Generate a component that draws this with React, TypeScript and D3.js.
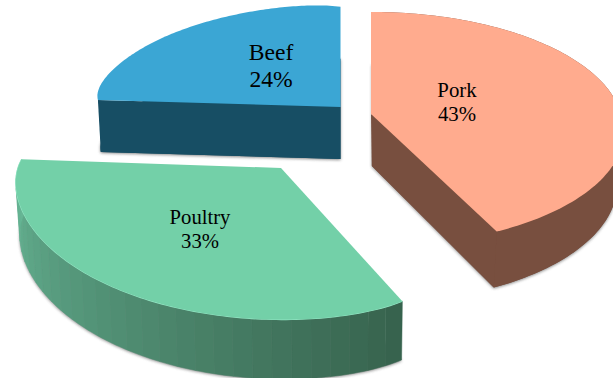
import React from "react";
import * as d3 from "d3";

const categories = ["Pork", "Poultry", "Beef"];
const shares = [43, 33, 24];

// Per-wedge placement of the tilted disc: apex, semi-axes, perspective strength,
// rim swell, how far the front of the rim leans right, wall growth toward the viewer,
// and the point the lower face converges on.
const wedgeLayout = [
  { ax: 371, ay: 114, rx: 250, ry: 115, p: 0.127, swell: 0, lean: 6, grow: 0.034, vx: 400, pull: 0.03, topFill: "#ffab8e", wallFrom: "#784f3f", wallTo: "#784f3f", outerWall: true, cutEdge: "end", labelX: 457, labelY: 97, fontSize: 20.8, lead: 24 },
  { ax: 281, ay: 168, rx: 261, ry: 138, p: 0.07, swell: 0.02, lean: 3, grow: 0.05, vx: 340, pull: 0.012, topFill: "#73d0a8", wallFrom: "#67b695", wallTo: "#37634e", outerWall: true, cutEdge: "none", labelX: 200, labelY: 223.5, fontSize: 20.7, lead: 24 },
  { ax: 340.5, ay: 107, rx: 245, ry: 113, p: 0.127, swell: 0.03, lean: 0, grow: 0.05, vx: 340, pull: 0.012, topFill: "#3ba6d4", wallFrom: "#174e64", wallTo: "#174e64", outerWall: false, cutEdge: "start", labelX: 271, labelY: 60, fontSize: 23.6, lead: 27 },
];

type Pt = [number, number];

const pieLayout = d3.pie<number>().sort(null).value((d) => d);
const lineGen = d3.line<Pt>();

export default function App() {
  const arcs = pieLayout(shares);
  return (
    <svg width={613} height={378} style={{ position: "absolute", left: 0, top: 0, background: "#fff" }}>
      <defs>
        <filter id="soft" x="-10%" y="-10%" width="120%" height="120%">
          <feGaussianBlur stdDeviation="1.6" />
        </filter>
      </defs>
      {arcs.map((a, i) => {
        const w = wedgeLayout[i];
        const toAngle = d3.interpolateNumber(a.startAngle, a.endAngle);
        // Project a fraction s of the wedge's sweep onto the screen.
        const project = (s: number): Pt => {
          const t = toAngle(s);
          const r = 1 + w.swell * (1 - Math.pow(2 * s - 1, 8));
          const u = r * Math.sin(t);
          const v = r * Math.cos(t);
          const k = 1 + w.p * v;
          return [w.ax + (w.rx * u) / k + w.lean * Math.max(0, -v), w.ay - (w.ry * v) / k];
        };
        const drop = ([x, y]: Pt): Pt => {
          const depth = 52 + w.grow * Math.max(0, y - w.ay);
          return [x + (w.vx - x) * w.pull, y + depth];
        };
        const rim = d3.range(0, 121).map((n) => project(n / 120));
        const apex: Pt = [w.ax, w.ay];
        const outline = [apex, ...rim];
        const floor = outline.map(drop);
        const shade = d3.interpolateRgb(w.wallFrom, w.wallTo);
        const flatWall = w.wallFrom === w.wallTo;

        // A shaded wall is drawn as narrow strips so the tone steps along the rim.
        const stripCount = 30;
        const step = Math.floor(rim.length / stripCount);
        const strips = w.outerWall && !flatWall
          ? d3.range(0, stripCount).map((s) => {
              const seg = rim.slice(s * step, Math.min(rim.length, (s + 1) * step + 1));
              return {
                d: lineGen([...seg, ...seg.map(drop).reverse()]) + "Z",
                // strip 0 lies at the wedge's front end, so the darkest tone starts there
                fill: shade(1 - s / (stripCount - 1)),
              };
            })
          : [];
        const flatWallPath = w.outerWall && flatWall
          ? lineGen([...rim, ...rim.map(drop).reverse()]) + "Z"
          : null;
        const cutPoint = w.cutEdge === "end" ? rim[rim.length - 1] : rim[0];
        return (
          <g key={categories[i]}>
            <path d={lineGen(floor) + "Z"} fill="#555" opacity={0.7} filter="url(#soft)" transform="translate(0,1)" />
            {flatWall && <path d={lineGen(floor) + "Z"} fill={w.wallFrom} />}
            {flatWallPath && <path d={flatWallPath} fill={w.wallFrom} />}
            {strips.map((s, k) => (
              <path key={k} d={s.d} fill={s.fill} stroke={s.fill} strokeWidth={0.5} />
            ))}
            {w.cutEdge !== "none" && (
              <path d={lineGen([apex, cutPoint, drop(cutPoint), drop(apex)]) + "Z"} fill={w.wallFrom} />
            )}
            {!flatWall && <path d={lineGen(rim) ?? ""} fill="none" stroke="#93e6c4" strokeWidth={1.2} />}
            <path d={lineGen(outline) + "Z"} fill={w.topFill} />
            <text fontFamily="'Liberation Serif', serif" fontSize={w.fontSize} fill="#000" textAnchor="middle">
              <tspan x={w.labelX} y={w.labelY}>{categories[i]}</tspan>
              <tspan x={w.labelX} y={w.labelY + w.lead}>{shares[i]}%</tspan>
            </text>
          </g>
        );
      })}
    </svg>
  );
}
